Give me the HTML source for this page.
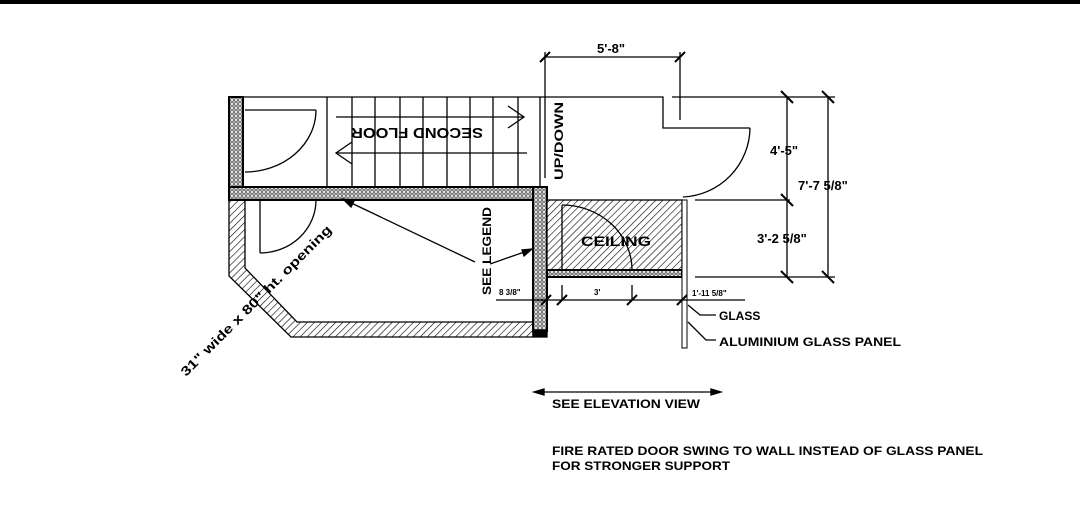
<!DOCTYPE html>
<html><head><meta charset="utf-8"><style>
html,body{margin:0;padding:0;background:#fff;}
svg{display:block;}
text{font-family:"Liberation Sans",sans-serif;font-weight:bold;fill:#000;}
</style></head><body>
<svg width="1080" height="527" viewBox="0 0 1080 527" xmlns="http://www.w3.org/2000/svg">
<defs>
<pattern id="h" width="5" height="5" patternUnits="userSpaceOnUse" patternTransform="rotate(45)">
<rect width="5" height="5" fill="#fff"/><line x1="0" y1="0" x2="0" y2="5" stroke="#000" stroke-width="1.2"/></pattern>
<pattern id="d" width="4" height="4" patternUnits="userSpaceOnUse">
<rect width="4" height="4" fill="#fff"/><circle cx="2" cy="2" r="1.3" fill="none" stroke="#333" stroke-width="0.8"/></pattern>
</defs>
<rect x="0" y="0" width="1080" height="4" fill="#000"/>
<g stroke="#000" fill="none" stroke-width="1.3">
<polyline points="243,97 663,97 663,128 750,128"/>
<path d="M750,128 A70,70 0 0 1 683,197"/>
<line x1="672" y1="97" x2="787" y2="97"/>
<path d="M229,200 L245,200 L245,268 L297,322 L533,322 L533,337 L291,337 L229,276 Z" fill="url(#h)"/>
<rect x="229" y="97" width="14" height="103" fill="url(#d)" stroke-width="2"/>
<rect x="229" y="187" width="318" height="13" fill="url(#d)" stroke-width="2"/>
<rect x="533" y="187" width="14" height="144" fill="url(#d)" stroke-width="2"/>
<rect x="533" y="330" width="14" height="7" fill="#000"/>
<line x1="327" y1="97" x2="327" y2="187"/>
<line x1="352" y1="97" x2="352" y2="187"/><line x1="375" y1="97" x2="375" y2="187"/>
<line x1="400" y1="97" x2="400" y2="187"/><line x1="423" y1="97" x2="423" y2="187"/>
<line x1="447" y1="97" x2="447" y2="187"/><line x1="470" y1="97" x2="470" y2="187"/>
<line x1="493" y1="97" x2="493" y2="187"/><line x1="518" y1="97" x2="518" y2="187"/>
<line x1="540" y1="97" x2="540" y2="187"/>
<line x1="336" y1="117" x2="524" y2="117"/><polyline points="508,106 524,117 508,128"/>
<line x1="336" y1="153" x2="527" y2="153"/><polyline points="352,142 336,153 352,164"/>
<line x1="245" y1="110" x2="316" y2="110"/>
<path d="M316,110 A71,62 0 0 1 245,172"/>
<line x1="260" y1="200" x2="260" y2="253"/>
<path d="M316,200 A56,53 0 0 1 260,253"/>
<rect x="547" y="200" width="135" height="70" fill="url(#h)"/>
<rect x="547" y="270" width="135" height="7" fill="url(#d)" stroke-width="2"/>
<line x1="562" y1="205" x2="562" y2="270"/>
<path d="M562,205 A70,65 0 0 1 632,270"/>
<rect x="682" y="200" width="5" height="148" fill="#fff" stroke-width="1"/>
<line x1="545" y1="57" x2="680" y2="57"/>
<line x1="545" y1="52" x2="545" y2="178"/><line x1="680" y1="52" x2="680" y2="120"/>
<line x1="540" y1="62" x2="550" y2="52" stroke-width="2"/><line x1="675" y1="62" x2="685" y2="52" stroke-width="2"/>
<line x1="787" y1="97" x2="787" y2="277"/><line x1="828" y1="97" x2="828" y2="277"/>
<line x1="787" y1="97" x2="835" y2="97"/>
<line x1="695" y1="200" x2="790" y2="200"/>
<line x1="695" y1="277" x2="835" y2="277"/>
<line x1="781" y1="91" x2="793" y2="103" stroke-width="2"/><line x1="822" y1="91" x2="834" y2="103" stroke-width="2"/>
<line x1="781" y1="194" x2="793" y2="206" stroke-width="2"/>
<line x1="781" y1="271" x2="793" y2="283" stroke-width="2"/><line x1="822" y1="271" x2="834" y2="283" stroke-width="2"/>
<line x1="496" y1="300" x2="745" y2="300"/>
<line x1="562" y1="285" x2="562" y2="300"/><line x1="632" y1="285" x2="632" y2="300"/>
<line x1="557" y1="305" x2="567" y2="295" stroke-width="2"/>
<line x1="627" y1="305" x2="637" y2="295" stroke-width="2"/>
<line x1="677" y1="305" x2="687" y2="295" stroke-width="2"/>
<line x1="541" y1="305" x2="551" y2="295" stroke-width="2"/>
<line x1="475" y1="262" x2="345" y2="200"/>
<polygon points="343,199 354,201 351,207" fill="#000"/>
<line x1="490" y1="264" x2="530" y2="250"/>
<polygon points="532,249 522,250 524,256" fill="#000"/>
<polyline points="688,305 700,315 716,315"/>
<polyline points="688,322 706,340 716,340"/>
<line x1="535" y1="392" x2="720" y2="392"/>
<polygon points="534,392 544,389 544,395" fill="#000"/>
<polygon points="721,392 711,389 711,395" fill="#000"/>
</g>
<text x="597" y="53" font-size="13">5'-8"</text>
<text x="0" y="0" font-size="15" transform="translate(483,128) rotate(180)" textLength="132" lengthAdjust="spacingAndGlyphs">SECOND FLOOR</text>
<text x="0" y="0" font-size="12" transform="translate(563,180) rotate(-90)" textLength="78" lengthAdjust="spacingAndGlyphs">UP/DOWN</text>
<text x="0" y="0" font-size="12" transform="translate(491,295) rotate(-90)" textLength="88" lengthAdjust="spacingAndGlyphs">SEE LEGEND</text>
<text x="581" y="246" font-size="14" textLength="70" lengthAdjust="spacingAndGlyphs">CEILING</text>
<text x="499" y="295" font-size="8">8 3/8"</text>
<text x="594" y="295" font-size="8">3'</text>
<text x="692" y="296" font-size="8">1'-11 5/8"</text>
<text x="770" y="155" font-size="13">4'-5"</text>
<text x="798" y="190" font-size="13">7'-7 5/8"</text>
<text x="757" y="243" font-size="13">3'-2 5/8"</text>
<text x="719" y="320" font-size="12">GLASS</text>
<text x="719" y="346" font-size="12" textLength="182" lengthAdjust="spacingAndGlyphs">ALUMINIUM GLASS PANEL</text>
<text x="0" y="0" font-size="13" transform="translate(186,377) rotate(-45)" textLength="207" lengthAdjust="spacingAndGlyphs">31" wide x 80" ht. opening</text>
<text x="552" y="408" font-size="12" textLength="148" lengthAdjust="spacingAndGlyphs">SEE ELEVATION VIEW</text>
<text x="552" y="455" font-size="12" textLength="431" lengthAdjust="spacingAndGlyphs">FIRE RATED DOOR SWING TO WALL INSTEAD OF GLASS PANEL</text>
<text x="552" y="470" font-size="12" textLength="178" lengthAdjust="spacingAndGlyphs">FOR STRONGER SUPPORT</text>
</svg>
</body></html>
